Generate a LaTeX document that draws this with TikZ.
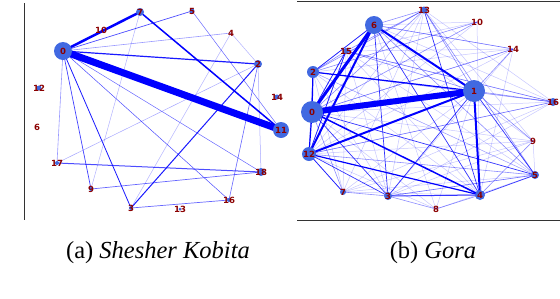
\documentclass[tikz,border=0pt]{standalone}
\usepackage{fontspec}
\setmainfont{Liberation Serif}
\newfontfamily\labfont{DejaVu Sans}
\usetikzlibrary{backgrounds}
\definecolor{nodeblue}{HTML}{4169E1}
\definecolor{labred}{HTML}{8B0000}
\definecolor{eblue}{HTML}{0000FF}
\tikzset{
  lbltxt/.style={inner sep=0pt,text=labred,font=\labfont\bfseries\fontsize{8.5}{9}\selectfont},
  vtx/.style 2 args={circle,fill=nodeblue,inner sep=0pt,minimum size=#1,label={[lbltxt]center:#2}},
  lbl/.style={lbltxt},
  ed/.style 2 args={draw=eblue,line width=#1,draw opacity=#2},
  frameline/.style={draw=black!80,line width=0.9pt},
  captxt/.style={anchor=base,font=\fontsize{24.5}{28}\selectfont}
}
\begin{document}
\begin{tikzpicture}[x=1pt,y=-1pt]
\useasboundingbox (0,0) rectangle (560,298);
% frames
\coordinate (lt) at (24.5,3);
\coordinate (lb) at (24.5,220);
\draw[frameline] (lt) -- (lb);
\coordinate (rtl) at (297,1.3);
\coordinate (rtr) at (560,1.3);
\coordinate (rbl) at (297,220);
\coordinate (rbr) at (560,220);
\draw[frameline] (rtl) -- (rtr);
\draw[frameline] (rbl) -- (rbr);

% ---------- left graph: Shesher Kobita ----------
\node[vtx={18pt}{0}] (a0) at (63,51) {};
\node[vtx={8pt}{7}] (a7) at (140,12) {};
\node[lbl] (a10) at (101,30) {10};
\node[vtx={5pt}{5}] (a5) at (192,11) {};
\node[lbl] (a4) at (231,33) {4};
\node[vtx={8pt}{2}] (a2) at (258,64) {};
\node[vtx={5pt}{14}] (a14) at (277,97) {};
\node[vtx={16pt}{11}] (a11) at (281,130) {};
\node[vtx={8pt}{18}] (a18) at (261,172) {};
\node[vtx={4pt}{16}] (a16) at (229,200) {};
\node[vtx={3pt}{13}] (a13) at (180,209) {};
\node[vtx={4pt}{3}] (a3) at (131,208) {};
\node[vtx={4pt}{9}] (a9) at (91,189) {};
\node[vtx={4pt}{17}] (a17) at (57,163) {};
\node[lbl] (a6) at (37,127) {6};
\node[vtx={5pt}{12}] (a12) at (39,88) {};

\begin{scope}[on background layer]
\draw[ed={7pt}{1}] (a0.center) -- (a11.center);
\draw[ed={2.5pt}{1}] (a0.center) -- (a7.center);
\draw[ed={1.5pt}{1}] (a7.center) -- (a11.center);
\draw[ed={1.2pt}{.9}] (a0.center) -- (a2.center);
\draw[ed={1pt}{.9}] (a2.center) -- (a3.center);
\draw[ed={.8pt}{.9}] (a0.center) -- (a3.center);
\draw[ed={1pt}{.7}] (a17.center) -- (a18.center);
\draw[ed={.7pt}{.7}] (a0.center) -- (a5.center);
\draw[ed={.6pt}{.4}] (a0.center) -- (a4.center);
\draw[ed={.6pt}{.4}] (a0.center) -- (a17.center);
\draw[ed={.7pt}{.75}] (a0.center) -- (a9.center);
\draw[ed={.5pt}{.7}] (a0.center) -- (a16.center);
\draw[ed={.5pt}{.6}] (a0.center) -- (a18.center);
\draw[ed={.5pt}{.3}] (a7.center) -- (a9.center);
\draw[ed={.5pt}{.6}] (a5.center) -- (a11.center);
\draw[ed={.5pt}{.3}] (a4.center) -- (a2.center);
\draw[ed={.5pt}{.3}] (a4.center) -- (a3.center);
\draw[ed={.5pt}{.35}] (a2.center) -- (a17.center);
\draw[ed={.6pt}{.6}] (a2.center) -- (a16.center);
\draw[ed={.5pt}{.35}] (a2.center) -- (a18.center);
\draw[ed={.7pt}{.6}] (a9.center) -- (a18.center);
\draw[ed={.7pt}{.6}] (a3.center) -- (a16.center);
\end{scope}

% ---------- right graph: Gora ----------
\node[vtx={7pt}{13}] (b13) at (424,10) {};
\node[vtx={18pt}{6}] (b6) at (374,25) {};
\node[lbl] (b10) at (477,22) {10};
\node[vtx={6pt}{15}] (b15) at (346,51) {};
\node[lbl] (b14) at (513,49) {14};
\node[vtx={12pt}{2}] (b2) at (313,72) {};
\node[vtx={22pt}{1}] (b1) at (474,91) {};
\node[vtx={8pt}{16}] (b16) at (553,102) {};
\node[vtx={22pt}{0}] (b0) at (312,112) {};
\node[lbl] (b9) at (533,141) {9};
\node[vtx={14pt}{12}] (b12) at (309,154) {};
\node[vtx={8pt}{5}] (b5) at (535,175) {};
\node[vtx={6pt}{7}] (b7) at (343,192) {};
\node[vtx={8pt}{3}] (b3) at (388,196) {};
\node[vtx={10pt}{4}] (b4) at (480,195) {};
\node[lbl] (b8) at (436,209) {8};

\begin{scope}[on background layer]
% faint edges
\foreach \u/\v in {b14/b15,b14/b0,b14/b2,b14/b12,b14/b3,b14/b4,b14/b6,
  b16/b15,b16/b6,b16/b0,b16/b12,b16/b7,b16/b3,
  b9/b12,b9/b0,b9/b3,b9/b7,b9/b6,b9/b5,
  b8/b0,b8/b12,b8/b1,b8/b6,b8/b5,
  b7/b1,b7/b4,b7/b13,b7/b15,
  b10/b15,b10/b6,b10/b4,b10/b12,
  b13/b3,b13/b12,b13/b16,b13/b9,
  b5/b2,b5/b15,b5/b3,b5/b7,
  b15/b4,b15/b3,b2/b3,b2/b4,b2/b5,b2/b7}
  \draw[ed={.5pt}{.22}] (\u.center) -- (\v.center);
% light edges
\foreach \u/\v in {b13/b6,b13/b2,b13/b15,b13/b0,b13/b1,b13/b5,b10/b0,b10/b2,
  b14/b1,b16/b1,b16/b2,b9/b1,b9/b4,b7/b0,b7/b12,b7/b3,b8/b3,b8/b4,
  b15/b0,b15/b12,b15/b1,b15/b2,b15/b16,b2/b6,b2/b12,b6/b5,b12/b5,b3/b5,
  b6/b14,b12/b16,b0/b14}
  \draw[ed={.6pt}{.45}] (\u.center) -- (\v.center);
% medium edges
\foreach \u/\v in {b6/b4,b6/b3,b1/b3,b1/b5,b13/b4,b0/b5,b0/b3,b12/b3,
  b6/b2,b12/b15,b0/b15,b12/b7,b5/b4}
  \draw[ed={.7pt}{.8}] (\u.center) -- (\v.center);
% strong edges
\draw[ed={6pt}{1}] (b0.center) -- (b1.center);
\draw[ed={3pt}{1}] (b0.center) -- (b6.center);
\draw[ed={2pt}{1}] (b12.center) -- (b6.center);
\draw[ed={2pt}{1}] (b6.center) -- (b1.center);
\draw[ed={2pt}{1}] (b12.center) -- (b1.center);
\draw[ed={2pt}{1}] (b1.center) -- (b4.center);
\draw[ed={1.5pt}{1}] (b0.center) -- (b4.center);
\draw[ed={1.2pt}{1}] (b12.center) -- (b4.center);
\draw[ed={1.2pt}{1}] (b2.center) -- (b1.center);
\draw[ed={1.2pt}{1}] (b0.center) -- (b2.center);
\draw[ed={1.2pt}{1}] (b0.center) -- (b12.center);
\draw[ed={1pt}{.8}] (b3.center) -- (b4.center);
\end{scope}

% captions
\node[captxt] (capa) at (158,258) {(a) \textit{Shesher Kobita}};
\node[captxt] (capb) at (433,258) {(b) \textit{Gora}};
\end{tikzpicture}
\end{document}
